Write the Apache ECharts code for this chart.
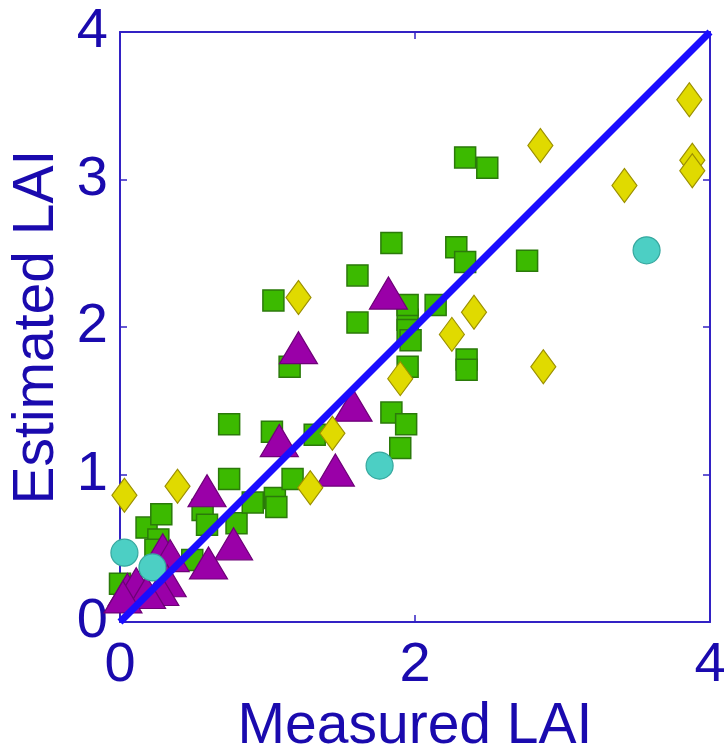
<!DOCTYPE html>
<html>
<head>
<meta charset="utf-8"/>
<title>Estimated vs Measured LAI</title>
<script src="https://cdn.jsdelivr.net/npm/echarts@6/dist/echarts.min.js"></script>
<style>
body{margin:0;background:#fff}
#main{width:725px;height:749px}
</style>
</head>
<body>
<div id="main"></div>
<script>
// values, [measured, estimated]
var squares = [
    [0.05,0.22],[0.00,0.26],[0.18,0.64],[0.28,0.73],[0.26,0.56],[0.24,0.49],
    [0.49,0.42],[0.56,0.76],[0.59,0.66],[0.74,0.97],[0.79,0.67],[0.90,0.81],
    [1.05,0.84],[1.06,0.78],[1.17,0.97],[0.74,1.34],[1.03,1.29],[1.32,1.27],
    [1.84,1.42],[1.94,1.34],[1.90,1.18],[1.15,1.73],[1.95,1.73],[2.35,1.78],
    [2.35,1.71],[1.61,2.03],[1.95,2.05],[1.95,1.98],[1.97,1.91],[1.04,2.18],
    [1.95,2.15],[2.14,2.15],[1.61,2.35],[1.84,2.57],[2.28,2.54],[2.34,2.44],
    [2.34,3.15],[2.49,3.08],[2.76,2.45]
];
var triangles = [
    [1.82,2.23],[1.21,1.86],[1.58,1.47],[1.08,1.23],[1.46,1.03],[0.59,0.89],
    [0.77,0.53],[0.60,0.40],[0.29,0.49],[0.34,0.45],[0.05,0.22],[0.11,0.26],
    [0.32,0.28],[0.27,0.22],[0.18,0.20],[0.02,0.17]
];
var circles = [[0.03,0.47],[0.22,0.37],[1.76,1.06],[3.57,2.52]];
var diamonds = [
    [0.03,0.86],[0.39,0.92],[1.21,2.20],[1.44,1.28],[1.29,0.91],[1.90,1.65],
    [2.25,1.95],[2.40,2.10],[2.85,3.23],[2.87,1.73],[3.42,2.96],[3.86,3.54],
    [3.88,3.13],[3.88,3.06]
];
var oneToOne = [[0,0],[4,4]];

var axisColor = '#3322c4';
var textColor = '#1a0aae';
var font = 'Liberation Sans';

var myChart = echarts.init(document.getElementById('main'));

function frameAxis(pos){
    return {
        type: 'value', position: pos, min: 0, max: 4,
        interval: (pos == 'top') ? 2 : 1,
        axisLine: {show: true, onZero: false, lineStyle: {color: axisColor, width: 2}},
        axisTick: {show: true, inside: true, length: 7, lineStyle: {color: axisColor, width: 1.5}},
        axisLabel: {show: false},
        splitLine: {show: false}
    };
}

var option = {
    animation: false,
    grid: {left: 120, top: 32, width: 590, height: 590, containLabel: false, outerBoundsMode: 'none'},
    xAxis: [{
        type: 'value', min: 0, max: 4, interval: 2,
        name: 'Measured LAI', nameLocation: 'middle', nameGap: 68,
        nameTextStyle: {color: textColor, fontSize: 57, fontFamily: font},
        axisLine: {onZero: false, lineStyle: {color: axisColor, width: 2}},
        axisTick: {inside: true, length: 7, lineStyle: {color: axisColor, width: 1.5}},
        axisLabel: {color: textColor, fontSize: 56, fontFamily: font, margin: 16},
        splitLine: {show: false}
    }, frameAxis('top')],
    yAxis: [{
        type: 'value', min: 0, max: 4, interval: 1,
        name: 'Estimated LAI', nameLocation: 'middle', nameGap: 40,
        nameTextStyle: {color: textColor, fontSize: 57, fontFamily: font},
        axisLine: {onZero: false, lineStyle: {color: axisColor, width: 2}},
        axisTick: {inside: true, length: 7, lineStyle: {color: axisColor, width: 1.5}},
        axisLabel: {color: textColor, fontSize: 56, fontFamily: font, margin: 12},
        splitLine: {show: false}
    }, frameAxis('right')],
    series: [
        {type: 'scatter', data: squares, symbol: 'rect', symbolSize: 21, clip: false,
         itemStyle: {color: '#3cba00', borderColor: '#2b7a0a', borderWidth: 1.5, opacity: 1}},
        {type: 'scatter', data: triangles, symbol: 'triangle', symbolSize: [38, 32], clip: false,
         itemStyle: {color: '#9a00a8', borderColor: '#6e0078', borderWidth: 1.2, opacity: 1}},
        {type: 'scatter', data: circles, symbol: 'circle', symbolSize: 27, clip: false,
         itemStyle: {color: '#4ccfc4', borderColor: '#36a89f', borderWidth: 1.2, opacity: 1}},
        {type: 'scatter', data: diamonds, symbol: 'diamond', symbolSize: [25, 34], clip: false,
         itemStyle: {color: '#e0da00', borderColor: '#9c9000', borderWidth: 1.2, opacity: 1}},
        {type: 'line', data: oneToOne, symbol: 'none', silent: true,
         lineStyle: {color: '#1a0dff', width: 7}, z: 5}
    ]
};

myChart.setOption(option);
</script>
</body>
</html>
